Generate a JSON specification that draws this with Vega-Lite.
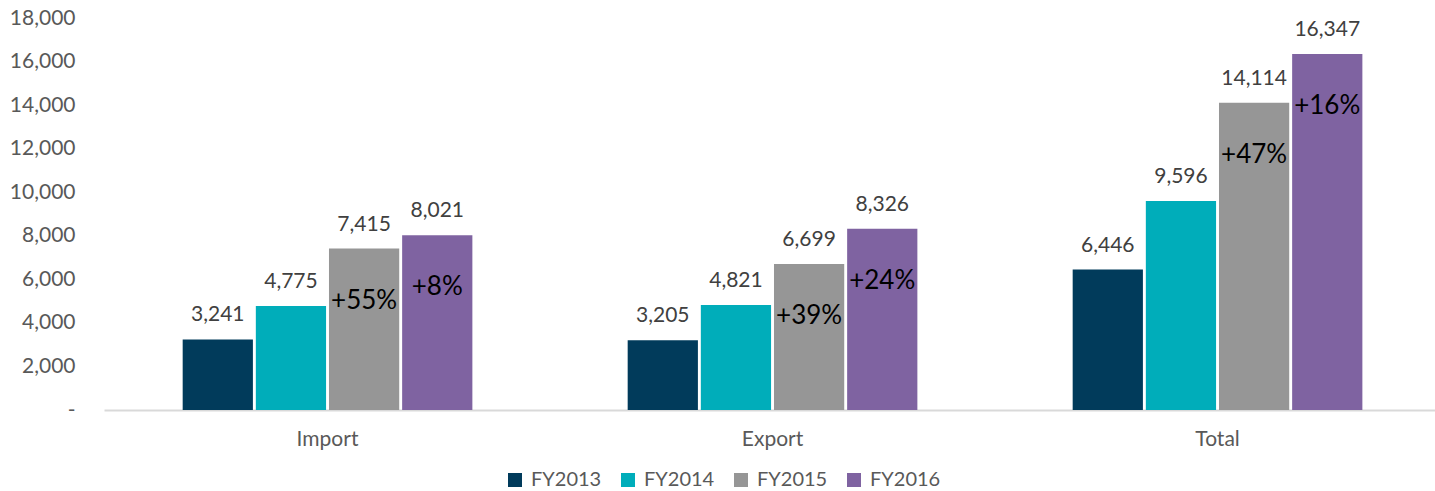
{
  "$schema": "https://vega.github.io/schema/vega-lite/v6.json",
  "width": 1331,
  "height": 392,
  "autosize": {"type": "none"},
  "padding": {"left": 104, "top": 18, "right": 0, "bottom": 81},
  "background": "white",
  "config": {
    "view": {"stroke": null},
    "font": "Lato",
    "axis": {"labelFont": "Lato", "labelColor": "#595959", "labelFontSize": 21, "title": null},
    "legend": {"labelFont": "Lato", "labelColor": "#595959", "labelFontSize": 20}
  },
  "data": {
    "values": [
      {"category": "Import", "year": "FY2013", "value": 3241, "pct": ""},
      {"category": "Import", "year": "FY2014", "value": 4775, "pct": ""},
      {"category": "Import", "year": "FY2015", "value": 7415, "pct": "+55%"},
      {"category": "Import", "year": "FY2016", "value": 8021, "pct": "+8%"},
      {"category": "Export", "year": "FY2013", "value": 3205, "pct": ""},
      {"category": "Export", "year": "FY2014", "value": 4821, "pct": ""},
      {"category": "Export", "year": "FY2015", "value": 6699, "pct": "+39%"},
      {"category": "Export", "year": "FY2016", "value": 8326, "pct": "+24%"},
      {"category": "Total", "year": "FY2013", "value": 6446, "pct": ""},
      {"category": "Total", "year": "FY2014", "value": 9596, "pct": ""},
      {"category": "Total", "year": "FY2015", "value": 14114, "pct": "+47%"},
      {"category": "Total", "year": "FY2016", "value": 16347, "pct": "+16%"}
    ]
  },
  "encoding": {
    "x": {
      "field": "category",
      "type": "nominal",
      "sort": ["Import", "Export", "Total"],
      "scale": {"paddingInner": 0.349, "paddingOuter": 0.17, "align": 0.52},
      "axis": {
        "labelAngle": 0,
        "ticks": false,
        "domain": true,
        "domainColor": "#D9D9D9",
        "domainWidth": 2,
        "labelPadding": 18,
        "grid": false
      }
    },
    "xOffset": {
      "field": "year",
      "type": "nominal",
      "sort": ["FY2013", "FY2014", "FY2015", "FY2016"],
      "scale": {"paddingInner": 0.04, "paddingOuter": 0}
    },
    "y": {
      "field": "value",
      "type": "quantitative",
      "scale": {"domain": [0, 18000], "nice": false},
      "axis": {
        "values": [0, 2000, 4000, 6000, 8000, 10000, 12000, 14000, 16000, 18000],
        "labelExpr": "datum.value == 0 ? '-\u00a0\u00a0\u00a0' : format(datum.value, ',')",
        "domain": false,
        "ticks": false,
        "grid": false,
        "labelPadding": 29
      }
    }
  },
  "layer": [
    {
      "mark": {"type": "bar"},
      "encoding": {
        "color": {
          "field": "year",
          "type": "nominal",
          "sort": ["FY2013", "FY2014", "FY2015", "FY2016"],
          "scale": {
            "domain": ["FY2013", "FY2014", "FY2015", "FY2016"],
            "range": ["#013B5B", "#00ADBA", "#969696", "#7F63A1"]
          },
          "legend": {
            "title": null,
            "orient": "none",
            "direction": "horizontal",
            "legendX": 401,
            "legendY": 452,
            "symbolType": "square",
            "symbolSize": 196,
            "symbolStrokeWidth": 0,
            "labelOffset": 6,
            "columnPadding": 16,
            "padding": 0
          }
        }
      }
    },
    {
      "mark": {"type": "text", "baseline": "alphabetic", "dy": -18, "fontSize": 21, "color": "#404040", "font": "Lato"},
      "encoding": {
        "text": {"field": "value", "type": "quantitative", "format": ","}
      }
    },
    {
      "transform": [{"filter": "datum.pct != ''"}],
      "mark": {"type": "text", "baseline": "middle", "dy": 52, "fontSize": 26, "color": "#000000", "font": "Lato"},
      "encoding": {
        "text": {"field": "pct", "type": "nominal"}
      }
    }
  ]
}
